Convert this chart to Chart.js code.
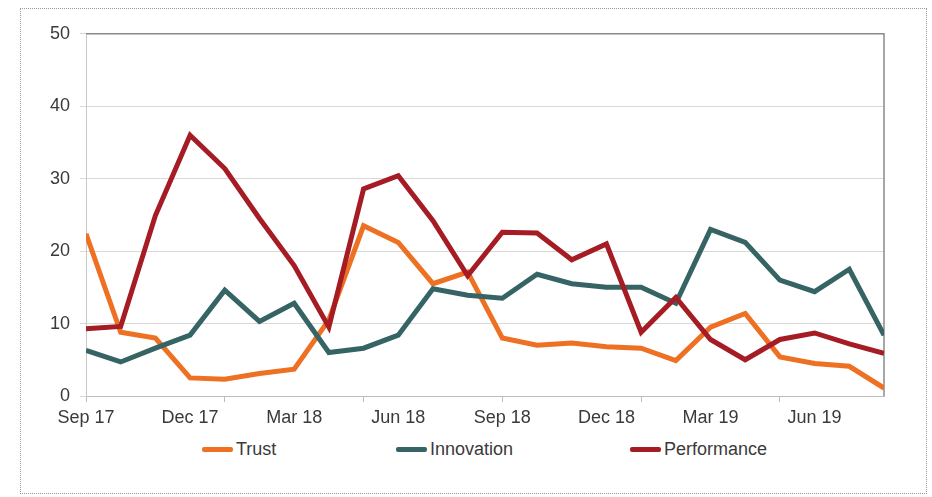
<!DOCTYPE html>
<html lang="en">
<head>
    <meta charset="UTF-8">
    <title>Trust, Innovation, Performance</title>
    <script src="https://cdn.jsdelivr.net/npm/chart.js"></script>
    <style>
        body { margin: 0; background: #fff; font-family: 'Liberation Sans', Arial, sans-serif; }
        #frame {
            position: absolute; left: 20px; top: 8px; width: 907px; height: 486px;
            box-sizing: border-box; border: 1px dotted #9a9a9a;
        }
        #wrap { position: absolute; left: 30px; top: 13px; width: 870px; height: 422px; }
        #legend { position: absolute; left: 0; top: 438px; width: 932px; height: 22px; }
        .item { position: absolute; top: 0; height: 22px; display: flex; align-items: center;
                font-size: 18px; color: #3a3a3a; }
        .swatch { width: 31px; height: 5px; border-radius: 2px; margin-right: 3px; }
    </style>
</head>
<body>
    <div id="frame"></div>
    <div id="wrap"><canvas id="myChart"></canvas></div>
    <div id="legend"></div>
    <script>
        // monthly, Sep 17 to Aug 19
        let months = ["Sep 17","Oct 17","Nov 17","Dec 17","Jan 18","Feb 18","Mar 18","Apr 18",
                      "May 18","Jun 18","Jul 18","Aug 18","Sep 18","Oct 18","Nov 18","Dec 18",
                      "Jan 19","Feb 19","Mar 19","Apr 19","May 19","Jun 19","Jul 19","Aug 19"];
        let trust = [22.4, 8.8, 8.0, 2.5, 2.3, 3.1, 3.7, 10.5, 23.5, 21.2, 15.5, 17.1,
                     8.0, 7.0, 7.3, 6.8, 6.6, 4.9, 9.5, 11.4, 5.4, 4.5, 4.1, 1.1];
        let innovation = [6.3, 4.7, 6.6, 8.4, 14.6, 10.3, 12.8, 6.0, 6.6, 8.4, 14.8, 13.9,
                          13.5, 16.8, 15.5, 15.0, 15.0, 12.8, 23.0, 21.2, 16.0, 14.4, 17.5, 8.4];
        let performance = [9.3, 9.6, 24.9, 36.0, 31.4, 24.5, 18.0, 9.5, 28.6, 30.4, 24.2, 16.6,
                           22.6, 22.5, 18.8, 21.0, 8.8, 13.6, 7.8, 5.0, 7.8, 8.7, 7.2, 5.9];
        let yTicks = [0, 10, 20, 30, 40, 50];

        const legendX = [202, 396, 630];
        const gridGrey = '#d9d9d9';
        const tickFont = { family: "'Liberation Sans', Arial", size: 18 };

        // darker top and right edges of the plot box
        const plotFrame = {
            id: 'plotFrame',
            beforeDatasetsDraw(chart) {
                const a = chart.chartArea, c = chart.ctx;
                c.save();
                c.strokeStyle = '#8a8a8a';
                c.lineWidth = 1.5;
                c.beginPath();
                c.moveTo(a.left, a.top);
                c.lineTo(a.right, a.top);
                c.lineTo(a.right, a.bottom);
                c.stroke();
                c.restore();
            }
        };

        function series(label, data, color, order) {
            return {
                label: label, data: data, borderColor: color, backgroundColor: color,
                borderWidth: 5, pointRadius: 0, tension: 0, order: order,
                borderJoinStyle: 'miter', clip: 0
            };
        }

        const ctx = document.getElementById('myChart');
        const chart = new Chart(ctx, {
            type: 'line',
            data: {
                labels: months,
                datasets: [
                    series('Trust', trust, '#ee7023', 2),
                    series('Innovation', innovation, '#366464', 1),
                    series('Performance', performance, '#a51c24', 0)
                ]
            },
            options: {
                responsive: true,
                maintainAspectRatio: false,
                animation: false,
                layout: { padding: { top: 13, right: 16, left: 0, bottom: 0 } },
                plugins: { legend: { display: false }, tooltip: { enabled: false } },
                scales: {
                    x: {
                        offset: false,
                        afterFit(s) { s.height = 39; },
                        border: { color: '#bdbdbd', width: 1 },
                        grid: {
                            drawOnChartArea: false, drawTicks: true, tickLength: 6,
                            tickColor: (c) => c.index % 4 === 0 ? '#bdbdbd' : 'rgba(0,0,0,0)'
                        },
                        ticks: {
                            autoSkip: false, maxRotation: 0, padding: 5,
                            color: '#3a3a3a', font: tickFont,
                            callback: (v, i) => i % 3 === 0 ? months[i] : ''
                        }
                    },
                    y: {
                        min: 0, max: 50,
                        afterFit(s) { s.width = 56; },
                        afterBuildTicks(s) { s.ticks = yTicks.map(v => ({ value: v })); },
                        border: { color: '#c8c8c8', width: 1 },
                        grid: { color: gridGrey, tickLength: 6, tickColor: gridGrey },
                        ticks: { padding: 10, color: '#3a3a3a', font: tickFont }
                    }
                }
            },
            plugins: [plotFrame]
        });

        // legend built from the chart's datasets
        const legend = document.getElementById('legend');
        chart.data.datasets.forEach((ds, i) => {
            const item = document.createElement('div');
            item.className = 'item';
            item.style.left = legendX[i] + 'px';
            const sw = document.createElement('span');
            sw.className = 'swatch';
            sw.style.background = ds.borderColor;
            const txt = document.createElement('span');
            txt.textContent = ds.label;
            item.appendChild(sw);
            item.appendChild(txt);
            legend.appendChild(item);
        });
    </script>
</body>
</html>
